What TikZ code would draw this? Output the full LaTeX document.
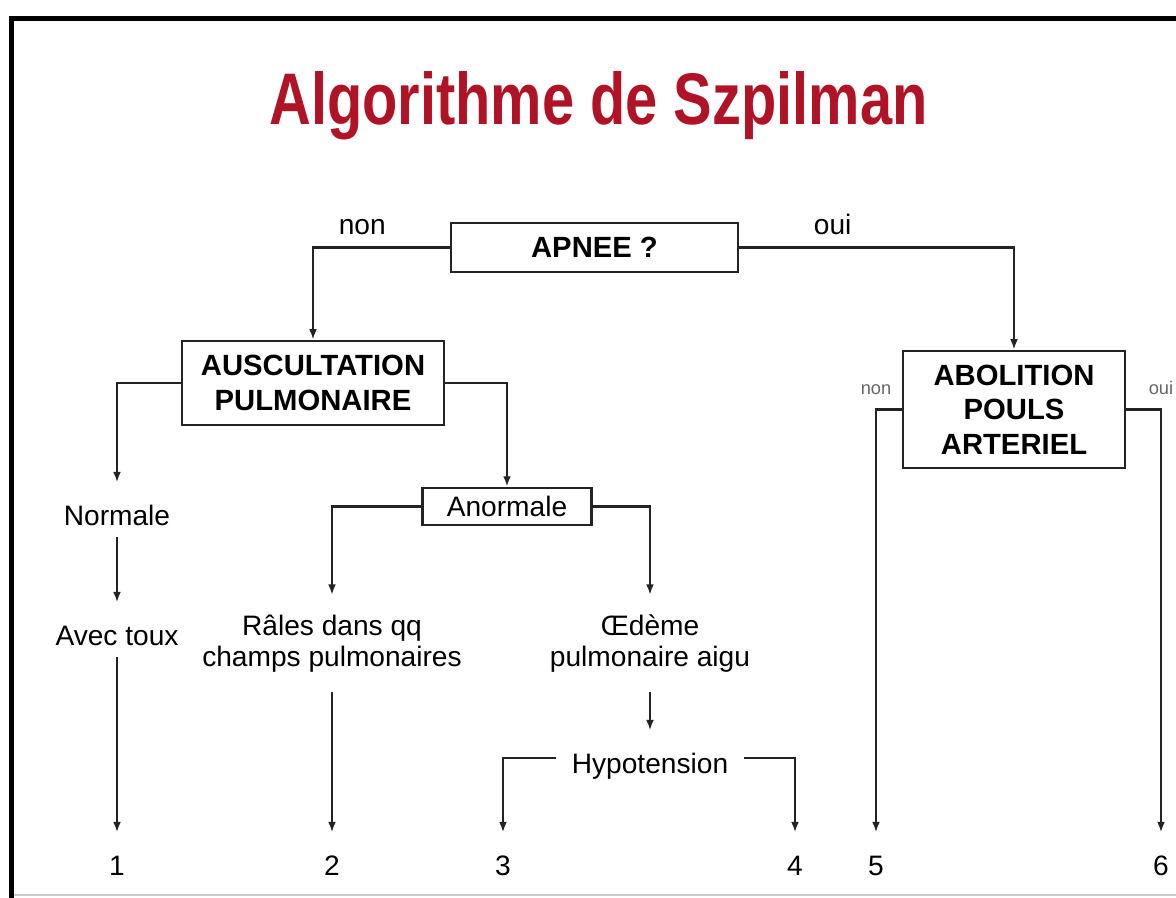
\documentclass[tikz,border=0pt]{standalone}
\usepackage{graphicx}
\usepackage{fontspec}
\setmainfont{Liberation Sans}
\usetikzlibrary{arrows.meta}
\definecolor{titlered}{RGB}{176,18,38}
\definecolor{linegray}{RGB}{35,35,35}
\tikzset{
  box/.style={draw=linegray, line width=1.7pt, inner sep=0pt, align=center,
    font=\fontsize{20.8}{24.5}\selectfont\bfseries},
  txt/.style={inner xsep=2pt, inner ysep=4pt, text height=26pt, text depth=4.5pt,
    font=\fontsize{20}{24}\selectfont},
  txtml/.style={inner xsep=2pt, inner ysep=14pt, align=center,
    font=\fontsize{20}{22}\selectfont, execute at begin node=\vphantom{Â}},
  arr/.style={draw=linegray, line width=1.7pt, -{Latex[length=7.5pt,width=5.5pt]}},
  lab/.style={inner sep=0pt, font=\fontsize{20}{24}\selectfont},
  smalllab/.style={inner sep=0pt, text=black!60, font=\fontsize{13}{16}\selectfont},
}
\begin{document}
\begin{tikzpicture}[x=0.025cm, y=-0.025cm]
    \useasboundingbox (0,0) rectangle (1176,898);
    % frame of the slide
    \draw[line width=4pt] (11.5,898) -- (11.5,18.5) -- (1176,18.5);
    \draw[black!20, line width=0.8pt] (14,895) -- (1176,895);
    % title
    \node[anchor=base, text=titlered, font=\fontsize{52}{60}\selectfont\bfseries] (title)
        at (598.5,125) {\scalebox{0.79}[1]{Algorithme de Szpilman}};
    % question boxes
    \node[box, minimum width=7.175cm, minimum height=1.225cm] (apnee) at (594.5,247.5) {APNEE ?};
    \node[box, minimum width=6.55cm, minimum height=2.1cm] (ausc) at (313,383) {AUSCULTATION\\PULMONAIRE};
    \node[box, minimum width=5.55cm, minimum height=2.925cm] (abol) at (1014,409.5) {ABOLITION\\POULS\\ARTERIEL};
    \node[box, font=\fontsize{20}{24}\selectfont, minimum width=4.225cm, minimum height=0.925cm] (anorm)
        at (507,506.5) {Anormale};
    % findings
    \node[txt, anchor=base] (normale) at (117,525) {Normale};
    \node[txt, anchor=base] (toux) at (117,645) {Avec toux};
    \node[txtml, anchor=north] (rales) at (332,595) {Râles dans qq\\champs pulmonaires};
    \node[txtml, anchor=north] (oedeme) at (650,595) {Œdème\\pulmonaire aigu};
    \node[txt, anchor=base, inner xsep=11pt] (hypo) at (650,773) {Hypotension};
    % classes
    \foreach \n/\x in {1/117,2/332,3/503,4/795,5/876,6/1161}{%
        \node[txt, anchor=base] (n\n) at (\x,875) {\n};
    }
    % connectors
    \draw[arr] (apnee.west) -| node[lab, pos=0.32, above=8pt] (non1) {non} (ausc.north);
    \draw[arr] (apnee.east) -| node[lab, pos=0.17, above=8pt] (oui1) {oui} (abol.north);
    \draw[arr] (ausc.west) -| (normale.north);
    \draw[arr] (ausc.east) -| (anorm.north);
    \draw[arr] (normale.south) -- (toux.north);
    \draw[arr] (toux.south) -- (n1.north);
    \draw[arr] (anorm.west) -| (rales.north);
    \draw[arr] (anorm.east) -| (oedeme.north);
    \draw[arr] (rales.south) -- (n2.north);
    \draw[arr] (oedeme.south) -- (hypo.north);
    \draw[arr] (hypo.west) -| (n3.north);
    \draw[arr] (hypo.east) -| (n4.north);
    \draw[arr] (abol.west) -| node[smalllab, pos=0.5, above=10pt] (non2) {non} (n5.north);
    \draw[arr] (abol.east) -| node[smalllab, pos=0.5, above=10pt] (oui2) {oui} (n6.north);
\end{tikzpicture}
\end{document}
